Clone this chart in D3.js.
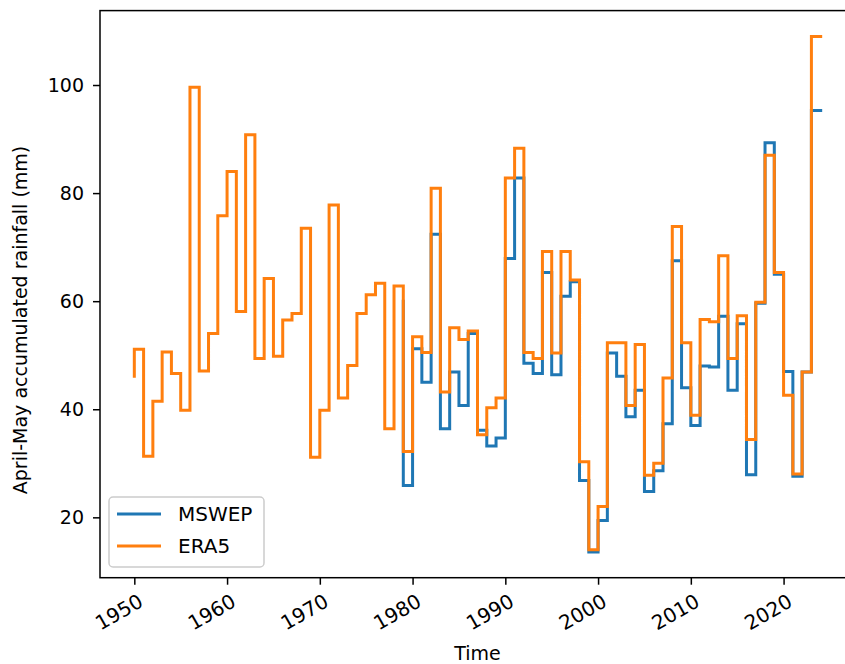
<!DOCTYPE html>
<html>
<head>
<meta charset="utf-8">
<script src="https://cdn.jsdelivr.net/npm/d3@7/dist/d3.min.js"></script>
<style>
  body { margin: 0; background: #fff; }
  text { font-family: "DejaVu Sans", sans-serif; fill: #000; }
</style>
</head>
<body>
<svg id="chart"></svg>
<script>
// April-May accumulated rainfall (mm), one value per year
var era5Years = d3.range(1950, 2025);
var era5 = [
  46.1, 51.1, 31.3, 41.5, 50.6, 46.6, 39.8, 99.6, 47.1, 54.0,
  75.8, 84.0, 58.1, 90.8, 49.4, 64.2, 49.8, 56.5, 57.7, 73.5,
  31.1, 39.8, 77.8, 42.1, 48.1, 57.7, 61.2, 63.3, 36.4, 62.8,
  32.2, 53.4, 50.5, 80.9, 43.2, 55.1, 52.9, 54.5, 35.3, 40.3,
  42.1, 82.8, 88.3, 50.5, 49.4, 69.2, 50.4, 69.2, 63.9, 30.3,
  14.0, 22.0, 52.3, 52.3, 40.7, 52.0, 27.8, 30.0, 45.8, 73.8,
  52.3, 38.9, 56.6, 56.2, 68.4, 49.4, 57.3, 34.4, 59.8, 87.0,
  65.3, 42.6, 28.0, 46.9, 109.0
];
var mswepYears = d3.range(1979, 2025);
var mswep = [
  60.0, 25.9, 51.2, 45.0, 72.4, 36.4, 46.9, 40.7, 54.0, 36.1,
  33.2, 34.7, 67.9, 82.8, 48.5, 46.6, 65.3, 46.4, 60.9, 63.6,
  26.8, 13.6, 19.4, 50.4, 46.1, 38.6, 43.5, 24.8, 28.6, 37.3,
  67.5, 44.0, 37.0, 48.0, 47.8, 57.2, 43.5, 55.8, 27.9, 59.6,
  89.3, 65.0, 47.0, 27.6, 46.9, 95.3
];
var xTicks = [1950, 1960, 1970, 1980, 1990, 2000, 2010, 2020];
var yTicks = [20, 40, 60, 80, 100];
var seriesNames = ["MSWEP", "ERA5"];
var seriesColors = ["#1f77b4", "#ff7f0e"];

var W = 845, H = 664;
var axL = 100, axR = 855, axT = 10.6, axB = 577.7;
var fs = 19;

var svg = d3.select("#chart").attr("width", W).attr("height", H);

// matplotlib style 5% margins on both axes
var xmin = 1950, xmax = 2024;
var xpad = (xmax - xmin) * 0.05;
var x = d3.scaleLinear().domain([xmin - xpad, xmax + xpad]).range([axL, axR]);

var allY = era5.concat(mswep);
var ymin = d3.min(allY), ymax = d3.max(allY);
var ypad = (ymax - ymin) * 0.05;
var y = d3.scaleLinear().domain([ymin - ypad, ymax + ypad]).range([axB, axT]);

// series
var line = d3.line()
    .x(function(d){ return x(d[0]); })
    .y(function(d){ return y(d[1]); })
    .curve(d3.curveStepBefore);

var seriesData = [
  mswepYears.map(function(yr, i){ return [yr, mswep[i]]; }),
  era5Years.map(function(yr, i){ return [yr, era5[i]]; })
];

svg.selectAll("path.series").data(seriesData)
  .enter().append("path")
  .attr("class", "series")
  .attr("d", line)
  .style("fill", "none")
  .style("stroke", function(d, i){ return seriesColors[i]; })
  .style("stroke-width", 3)
  .style("stroke-linejoin", "miter")
  .style("stroke-linecap", "square");

// axes
var xAxis = d3.axisBottom(x).tickValues(xTicks).tickFormat(d3.format("d"))
    .tickSize(7).tickPadding(6);
var gx = svg.append("g").attr("transform", "translate(0," + axB + ")").call(xAxis);
gx.select(".domain").remove();
gx.selectAll(".tick line").style("stroke", "#000").style("stroke-width", 1.5);
gx.selectAll(".tick text")
  .style("font-size", "20px")
  .attr("text-anchor", "end")
  .attr("dy", "0.72em")
  .attr("transform", "translate(-4,4) rotate(-30)");

var yAxis = d3.axisLeft(y).tickValues(yTicks).tickSize(7).tickPadding(9);
var gy = svg.append("g").attr("transform", "translate(" + axL + ",0)").call(yAxis);
gy.select(".domain").remove();
gy.selectAll(".tick line").style("stroke", "#000").style("stroke-width", 1.5);
gy.selectAll(".tick text").style("font-size", fs + "px");

// frame
svg.append("rect")
  .attr("x", axL).attr("y", axT)
  .attr("width", axR - axL).attr("height", axB - axT)
  .style("fill", "none").style("stroke", "#000").style("stroke-width", 1.5);

// labels
svg.append("text")
  .attr("x", (axL + axR) / 2).attr("y", 660)
  .attr("text-anchor", "middle")
  .style("font-size", fs + "px")
  .text("Time");

svg.append("text")
  .attr("transform", "translate(27,320) rotate(-90)")
  .attr("text-anchor", "middle")
  .style("font-size", fs + "px")
  .text("April-May accumulated rainfall (mm)");

// legend
var lg = svg.append("g").attr("transform", "translate(109,497)");
lg.append("rect")
  .attr("width", 155).attr("height", 70).attr("rx", 4)
  .style("fill", "#fff").style("fill-opacity", 0.8)
  .style("stroke", "#ccc").style("stroke-width", 1.5);
seriesNames.forEach(function(name, i){
  var cy = 17 + i * 32;
  lg.append("line")
    .attr("x1", 8).attr("x2", 52).attr("y1", cy).attr("y2", cy)
    .style("stroke", seriesColors[i]).style("stroke-width", 3);
  lg.append("text")
    .attr("x", 69).attr("y", cy).attr("dy", "0.35em")
    .style("font-size", "20px")
    .text(name);
});
</script>
</body>
</html>
